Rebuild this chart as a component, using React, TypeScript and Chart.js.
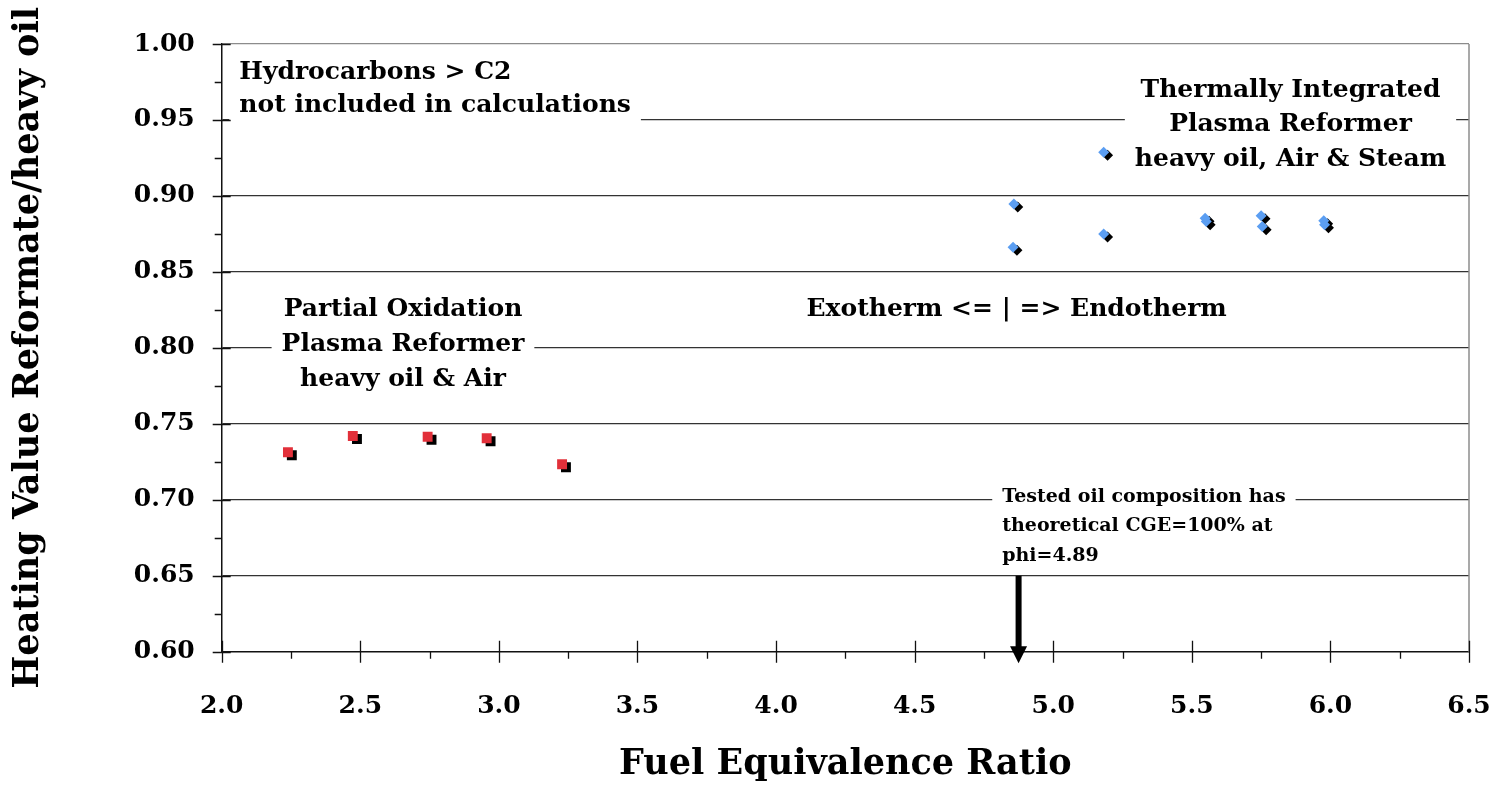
import React, { useEffect, useRef } from "react";
import { Chart, registerables } from "chart.js";

Chart.register(...registerables);

// ---- data ----
const POX_PHI = [2.239, 2.473, 2.743, 2.956, 3.228];
const POX_HV = [0.7313, 0.742, 0.7415, 0.7405, 0.7234];
const POX_SHADOW_PHI = [2.253, 2.488, 2.757, 2.97, 3.242];
const POX_SHADOW_HV = [0.7293, 0.74, 0.7395, 0.7385, 0.7214];

const TIPR_PHI = [5.182, 4.858, 4.855, 5.182, 5.548, 5.552, 5.75, 5.754, 5.976, 5.979];
const TIPR_HV = [0.9288, 0.8947, 0.8662, 0.875, 0.8853, 0.8831, 0.887, 0.8798, 0.8837, 0.881];
const TIPR_SHADOW_PHI = [5.196, 4.872, 4.869, 5.196, 5.562, 5.566, 5.764, 5.768, 5.99, 5.993];
const TIPR_SHADOW_HV = [0.9268, 0.8927, 0.8642, 0.873, 0.8833, 0.8811, 0.885, 0.8778, 0.8817, 0.879];

const X_MIN = 2.0;
const X_MAX = 6.5;
const X_STEP = 0.5;
const Y_MIN = 0.6;
const Y_MAX = 1.0;
const Y_STEP = 0.05;

const X_TITLE = "Fuel Equivalence Ratio";
const Y_TITLE = "Heating Value Reformate/heavy oil";

const ARROW_PHI = 4.875;
const ARROW_FROM = 0.65;
const ARROW_TO = 0.5924;

const NOTE_HC = ["Hydrocarbons > C2", "not included in calculations"];
const NOTE_TIPR = ["Thermally Integrated", "Plasma Reformer", "heavy oil, Air & Steam"];
const NOTE_POX = ["Partial Oxidation", "Plasma Reformer", "heavy oil & Air"];
const NOTE_EXO = ["Exotherm <= | => Endotherm"];
const NOTE_OIL = ["Tested oil composition has", "theoretical CGE=100% at", "phi=4.89"];

const FONT = "'DejaVu Serif', serif";

type Note = {
  lines: string[];
  x: number;
  y: number;
  align: "left" | "center";
  size: number;
  gap: number;
};

const NOTES: Note[] = [
  { lines: NOTE_HC, x: 2.0635, y: 0.9768, align: "left", size: 25, gap: 32.4 },
  { lines: NOTE_TIPR, x: 5.856, y: 0.9654, align: "center", size: 25, gap: 34.6 },
  { lines: NOTE_POX, x: 2.654, y: 0.8212, align: "center", size: 25, gap: 35 },
  { lines: NOTE_EXO, x: 4.868, y: 0.821, align: "center", size: 25, gap: 0 },
  { lines: NOTE_OIL, x: 4.816, y: 0.6984, align: "left", size: 19, gap: 29.2 },
];

const toPoints = (xs: number[], ys: number[]) => xs.map((x, i) => ({ x, y: ys[i] }));

const notesPlugin = {
  id: "notes",
  beforeDatasetsDraw(chart: any) {
    const { ctx } = chart;
    const xs = chart.scales.x;
    const ys = chart.scales.y;
    ctx.save();
    for (const n of NOTES) {
      ctx.font = `bold ${n.size}px ${FONT}`;
      const px = xs.getPixelForValue(n.x);
      const py = ys.getPixelForValue(n.y);
      const widths = n.lines.map((l) => ctx.measureText(l).width);
      const maxW = Math.max(...widths);
      const left = n.align === "left" ? px : px - maxW / 2;
      const top = py - n.size * 0.8 - 6;
      const bottom = py + n.gap * (n.lines.length - 1) + n.size * 0.28 + 6;
      ctx.fillStyle = "#ffffff";
      ctx.fillRect(left - 10, top, maxW + 20, bottom - top);
      ctx.fillStyle = "#000000";
      ctx.textBaseline = "alphabetic";
      ctx.textAlign = n.align;
      n.lines.forEach((l, i) => ctx.fillText(l, px, py + i * n.gap));
    }
    ctx.restore();
  },
  afterDraw(chart: any) {
    const { ctx, chartArea } = chart;
    const xs = chart.scales.x;
    const ys = chart.scales.y;
    ctx.save();
    // right border
    ctx.strokeStyle = "#8c8c8c";
    ctx.lineWidth = 1.5;
    ctx.beginPath();
    ctx.moveTo(chartArea.right, chartArea.top);
    ctx.lineTo(chartArea.right, chartArea.bottom);
    ctx.stroke();
    // tick marks
    ctx.strokeStyle = "#111111";
    ctx.lineWidth = 1.3;
    ctx.beginPath();
    const nY = Math.round((Y_MAX - Y_MIN) / (Y_STEP / 2));
    for (let i = 0; i <= nY; i++) {
      const v = Y_MIN + (i * Y_STEP) / 2;
      const p = Math.round(ys.getPixelForValue(v)) + 0.5;
      if (i % 2 === 0) {
        ctx.moveTo(chartArea.left - 9, p);
        ctx.lineTo(chartArea.left + 9, p);
      } else {
        ctx.moveTo(chartArea.left - 7, p);
        ctx.lineTo(chartArea.left, p);
      }
    }
    const nX = Math.round((X_MAX - X_MIN) / (X_STEP / 2));
    for (let i = 0; i <= nX; i++) {
      const v = X_MIN + (i * X_STEP) / 2;
      const p = Math.round(xs.getPixelForValue(v)) + 0.5;
      if (i % 2 === 0) {
        ctx.moveTo(p, chartArea.bottom - 11);
        ctx.lineTo(p, chartArea.bottom + 11);
      } else {
        ctx.moveTo(p, chartArea.bottom);
        ctx.lineTo(p, chartArea.bottom + 7);
      }
    }
    ctx.stroke();
    // arrow
    const ax = xs.getPixelForValue(ARROW_PHI);
    const ay0 = ys.getPixelForValue(ARROW_FROM);
    const ay1 = ys.getPixelForValue(ARROW_TO);
    ctx.fillStyle = "#000000";
    ctx.fillRect(ax - 3, ay0, 6, ay1 - ay0 - 14);
    ctx.beginPath();
    ctx.moveTo(ax - 8.5, ay1 - 17);
    ctx.lineTo(ax + 8.5, ay1 - 17);
    ctx.lineTo(ax, ay1);
    ctx.closePath();
    ctx.fill();
    ctx.restore();
  },
};

export default function App() {
  const canvasRef = useRef<HTMLCanvasElement | null>(null);

  useEffect(() => {
    if (!canvasRef.current) return;
    const tickFont = { family: FONT, weight: "bold" as const, size: 25 };
    const chart = new Chart(canvasRef.current, {
      type: "scatter",
      data: {
        datasets: [
          {
            label: "Partial Oxidation",
            data: toPoints(POX_PHI, POX_HV),
            pointStyle: "rect",
            pointRadius: 7,
            backgroundColor: "#e2303a",
            borderWidth: 0,
          },
          {
            label: "Thermally Integrated",
            data: toPoints(TIPR_PHI, TIPR_HV),
            pointStyle: "rectRot",
            pointRadius: 5.5,
            backgroundColor: "#5b9ef2",
            borderWidth: 0,
          },
          {
            label: "Partial Oxidation (shadow)",
            data: toPoints(POX_SHADOW_PHI, POX_SHADOW_HV),
            pointStyle: "rect",
            pointRadius: 7,
            backgroundColor: "#000000",
            borderWidth: 0,
          },
          {
            label: "Thermally Integrated (shadow)",
            data: toPoints(TIPR_SHADOW_PHI, TIPR_SHADOW_HV),
            pointStyle: "rectRot",
            pointRadius: 5.5,
            backgroundColor: "#000000",
            borderWidth: 0,
          },
        ],
      },
      options: {
        responsive: false,
        animation: false,
        devicePixelRatio: 1,
        events: [],
        layout: { padding: { top: 44, right: 30, left: 0, bottom: 0 } },
        plugins: {
          legend: { display: false },
          tooltip: { enabled: false },
        },
        scales: {
          x: {
            type: "linear",
            min: X_MIN,
            max: X_MAX,
            afterFit: (s: any) => {
              s.height = 133.3;
              s.paddingLeft = 0;
              s.paddingRight = 0;
            },
            ticks: {
              stepSize: X_STEP,
              padding: 40,
              color: "#000",
              font: tickFont,
              callback: (v: any) => Number(v).toFixed(1),
            },
            grid: { display: false, drawTicks: false },
            border: { display: true, color: "#111", width: 1.5 },
            title: {
              display: true,
              text: X_TITLE,
              color: "#000",
              font: { family: FONT, weight: "bold", size: 35, lineHeight: 1 },
              padding: { top: 0, bottom: 2.5 },
            },
          },
          y: {
            type: "linear",
            min: Y_MIN,
            max: Y_MAX,
            afterFit: (s: any) => {
              s.width = 221.7;
            },
            ticks: {
              stepSize: Y_STEP,
              padding: 27,
              color: "#000",
              font: tickFont,
              callback: (v: any) => Number(v).toFixed(2),
            },
            grid: {
              drawTicks: false,
              lineWidth: 1.3,
              color: (c: any) =>
                c.index === 0 ? "rgba(0,0,0,0)" : c.tick && c.tick.value > Y_MAX - 0.001 ? "#8c8c8c" : "#333333",
            },
            border: { display: true, color: "#111", width: 1.5 },
            title: {
              display: true,
              text: Y_TITLE,
              color: "#000",
              font: { family: FONT, weight: "bold", size: 35, lineHeight: 1 },
              padding: { top: 11.5, bottom: 0 },
            },
          },
        },
      },
      plugins: [notesPlugin],
    });
    return () => chart.destroy();
  }, []);

  return (
    <div style={{ position: "fixed", left: 0, top: 0, width: 1499, height: 785, background: "#fff" }}>
      <canvas ref={canvasRef} width={1499} height={785} style={{ display: "block" }} />
    </div>
  );
}
